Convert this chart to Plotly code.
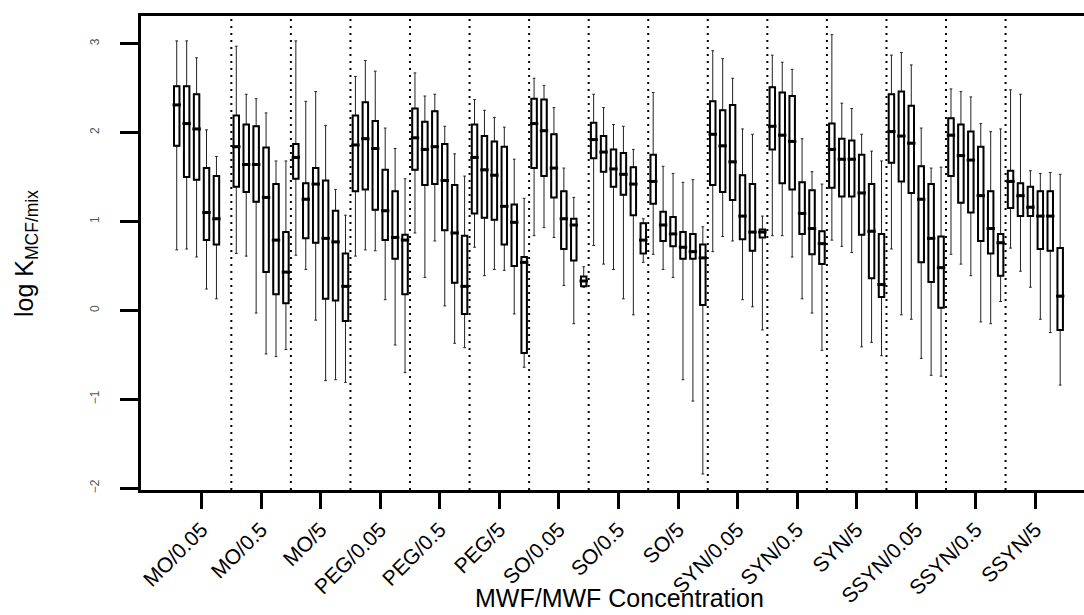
import plotly.graph_objects as go

groups = ["MO/0.05", "MO/0.5", "MO/5", "PEG/0.05", "PEG/0.5", "PEG/5",
          "SO/0.05", "SO/0.5", "SO/5", "SYN/0.05", "SYN/0.5", "SYN/5",
          "SSYN/0.05", "SSYN/0.5", "SSYN/5"]
per_group = 6

lower = [0.68, 0.69, 0.60, 0.24, 0.13, None,
         0.64, 0.61, -0.03, -0.49, -0.52, -0.44,
         0.62, 0.46, -0.11, -0.79, -0.78, -0.81,
         0.61, 0.68, 0.67, 0.12, -0.39, -0.70,
         0.87, 0.37, 0.78, 0.05, -0.37, -0.42,
         0.71, 0.39, 0.46, 0.45, -0.04, -0.64,
         0.84, 0.93, 0.82, 0.28, -0.15, 0.26,
         0.73, 0.52, 0.46, 0.13, -0.05, 0.54,
         0.63, 0.46, 0.37, -0.78, -1.02, -1.84,
         0.66, 0.83, 0.78, 0.12, 0.04, -0.22,
         0.84, 0.84, 0.60, 0.13, -0.03, -0.45,
         0.79, 0.72, 0.65, -0.41, -0.36, -0.51,
         0.69, -0.05, -0.10, -0.54, -0.73, -0.74,
         0.63, 0.52, 0.39, -0.13, -0.15, 0.10,
         0.70, 0.44, 0.26, -0.10, -0.25, -0.84]
q1 = [1.85, 1.50, 1.47, 0.79, 0.74, None,
      1.39, 1.33, 1.22, 0.43, 0.18, 0.08,
      1.48, 0.81, 0.76, 0.13, 0.11, -0.12,
      1.34, 1.36, 1.13, 0.79, 0.58, 0.18,
      1.58, 1.41, 1.42, 0.90, 0.31, -0.04,
      1.09, 1.04, 1.02, 0.74, 0.50, -0.48,
      1.60, 1.51, 1.27, 0.69, 0.56, 0.27,
      1.71, 1.56, 1.39, 1.30, 1.07, 0.64,
      1.20, 0.78, 0.72, 0.58, 0.58, 0.06,
      1.41, 1.33, 1.24, 0.80, 0.67, 0.82,
      1.81, 1.43, 1.36, 0.86, 0.63, 0.52,
      1.38, 1.28, 1.28, 0.85, 0.36, 0.15,
      1.66, 1.45, 1.32, 0.54, 0.32, 0.03,
      1.51, 1.21, 1.10, 0.78, 0.64, 0.39,
      1.15, 1.06, 1.06, 0.69, 0.67, -0.22]
median = [2.31, 2.10, 2.04, 1.10, 1.03, None,
          1.84, 1.64, 1.64, 1.27, 0.79, 0.43,
          1.72, 1.25, 1.42, 0.81, 0.77, 0.27,
          1.86, 1.93, 1.82, 1.12, 0.82, 0.79,
          1.94, 1.81, 1.84, 1.46, 0.87, 0.27,
          1.72, 1.58, 1.52, 1.17, 0.99, 0.54,
          2.10, 2.02, 1.60, 1.03, 0.96, 0.33,
          1.92, 1.78, 1.59, 1.53, 1.42, 0.79,
          1.45, 0.96, 0.86, 0.71, 0.66, 0.59,
          1.98, 1.85, 1.67, 1.06, 0.88, 0.88,
          2.07, 1.97, 1.90, 1.09, 0.92, 0.75,
          1.81, 1.70, 1.70, 1.32, 0.89, 0.29,
          2.01, 1.96, 1.88, 1.25, 0.81, 0.48,
          1.97, 1.74, 1.69, 1.29, 0.92, 0.76,
          1.45, 1.29, 1.16, 1.06, 1.06, 0.16]
q3 = [2.52, 2.52, 2.43, 1.60, 1.51, None,
      2.19, 2.09, 2.07, 1.83, 1.42, 0.88,
      1.87, 1.43, 1.60, 1.46, 1.12, 0.64,
      2.19, 2.34, 2.13, 1.58, 1.34, 0.85,
      2.27, 2.12, 2.24, 1.87, 1.41, 0.84,
      2.09, 1.96, 1.90, 1.84, 1.19, 0.60,
      2.38, 2.37, 1.98, 1.34, 1.03, 0.38,
      2.11, 1.96, 1.81, 1.77, 1.61, 0.98,
      1.75, 1.11, 1.05, 0.88, 0.86, 0.74,
      2.35, 2.25, 2.31, 1.52, 1.42, 0.91,
      2.51, 2.45, 2.41, 1.44, 1.35, 0.89,
      2.10, 1.93, 1.91, 1.75, 1.42, 0.86,
      2.43, 2.46, 2.30, 1.62, 1.42, 0.83,
      2.16, 2.09, 2.01, 1.84, 1.34, 0.86,
      1.57, 1.43, 1.39, 1.34, 1.34, 0.70]
upper = [3.03, 3.03, 2.84, 2.03, 1.73, None,
         2.97, 2.43, 2.38, 2.22, 1.68, 1.68,
         3.03, 2.35, 2.46, 2.08, 1.36, 1.07,
         2.63, 2.81, 2.69, 2.05, 1.82, 1.48,
         2.67, 2.41, 2.43, 2.07, 1.76, 1.51,
         2.37, 2.25, 2.17, 2.06, 1.70, 1.26,
         2.61, 2.53, 2.28, 1.60, 1.27, 0.49,
         2.43, 2.28, 2.09, 2.07, 1.81, 1.03,
         2.45, 1.62, 1.54, 1.44, 1.47, 0.94,
         2.92, 2.83, 2.61, 2.04, 1.98, 1.06,
         2.87, 2.79, 2.71, 1.93, 1.56, 1.42,
         3.10, 2.33, 2.27, 1.98, 1.79, 1.68,
         2.87, 2.90, 2.76, 2.05, 1.60, 1.61,
         2.49, 2.46, 2.40, 2.10, 2.01, 2.04,
         2.48, 2.43, 1.57, 1.54, 1.55, 1.53]

y_ticks = [-2, -1, 0, 1, 2, 3]

# slot positions (1-based), skip missing entries
pos = list(range(1, len(groups) * per_group + 1))
keep = [i for i in range(len(pos)) if median[i] is not None]
xs = [pos[i] for i in keep]
lo = [lower[i] for i in keep]
a = [q1[i] for i in keep]
m = [median[i] for i in keep]
b = [q3[i] for i in keep]
hi = [upper[i] for i in keep]

centers = [g * per_group + (per_group + 1) / 2 for g in range(len(groups))]
seps = [g * per_group + per_group + 0.5 for g in range(len(groups) - 1)]

FONT = "Liberation Sans, Arial, sans-serif"
fig = go.Figure()

# whiskers + thin box
fig.add_trace(go.Box(x=xs, q1=a, median=m, q3=b, lowerfence=lo, upperfence=hi,
                     width=0.55, whiskerwidth=0.5, fillcolor="white",
                     line=dict(color="#222222", width=1), boxpoints=False,
                     showlegend=False, hoverinfo="skip"))
# thicker box outline on top
fig.add_trace(go.Box(x=xs, q1=a, median=m, q3=b, lowerfence=a, upperfence=b,
                     width=0.55, whiskerwidth=0, fillcolor="white",
                     line=dict(color="black", width=2), boxpoints=False,
                     showlegend=False, hoverinfo="skip"))
# thick medians
fig.add_trace(go.Scatter(x=xs, y=m, mode="markers",
                         marker=dict(symbol="line-ew", size=6,
                                     line=dict(color="black", width=3)),
                         showlegend=False, hoverinfo="skip"))

for s in seps:
    fig.add_shape(type="line", x0=s, x1=s, y0=0, y1=1, xref="x", yref="paper",
                  line=dict(color="black", width=2, dash="2px,5px"), layer="below")

fig.update_layout(
    width=1084, height=615,
    margin=dict(l=141, r=0, t=16, b=125),
    paper_bgcolor="white", plot_bgcolor="white",
    boxmode="overlay",
    font=dict(family=FONT, color="black"),
    xaxis=dict(range=[-2.6, 92.4], tickvals=centers, ticktext=groups,
               tickangle=-45, tickfont=dict(size=21, family=FONT, color="black"),
               ticks="outside", ticklen=16, tickwidth=3, tickcolor="black",
               showline=True, linewidth=3, linecolor="black", mirror=True,
               showgrid=False, zeroline=False),
    yaxis=dict(range=[-2.02, 3.31], tickvals=y_ticks,
               ticktext=[str(v).replace("-", "\u2212") for v in y_ticks],
               tickangle=-90, tickfont=dict(size=12, family=FONT, color="#555555"),
               ticks="outside", ticklen=18, tickwidth=3, tickcolor="black",
               ticklabelstandoff=16,
               showline=True, linewidth=3, linecolor="black", mirror=False,
               showgrid=False, zeroline=False),
    annotations=[
        dict(text="log K<sub>MCF/mix</sub>", xref="paper", yref="paper",
             x=(26 - 141) / 943, y=(490 - 254) / 474, textangle=-90,
             xanchor="center", yanchor="middle", showarrow=False,
             font=dict(size=25, family=FONT, color="black")),
        dict(text="MWF/MWF Concentration", xref="paper", yref="paper",
             x=(619 - 141) / 943, y=(490 - 614) / 474,
             xanchor="center", yanchor="bottom", showarrow=False,
             font=dict(size=25, family=FONT, color="black")),
    ],
)

fig.write_html("out.html", config={"displayModeBar": False},
               post_script="document.body.style.margin='0';document.body.style.overflow='hidden';")
